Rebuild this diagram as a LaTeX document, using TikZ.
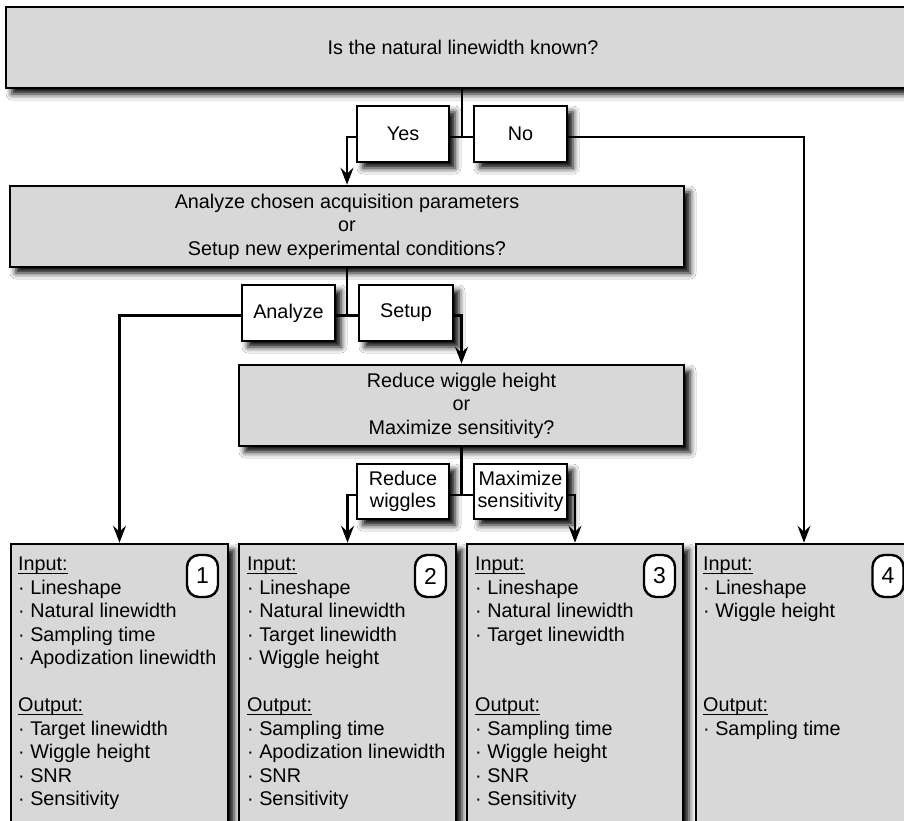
\documentclass[tikz,border=0pt]{standalone}
\usepackage{fontspec}
\setmainfont{Liberation Sans}
\usetikzlibrary{arrows.meta,shadows.blur}
\definecolor{boxgray}{RGB}{216,216,216}
\newlength\myullen
\newcommand\myul[1]{\settowidth\myullen{#1}#1\llap{\rule[-3.5pt]{\myullen}{1.8pt}}}
\newcommand\bigtxt{\fontsize{19.8}{23.5}\selectfont}
\begin{document}
\begin{tikzpicture}[x=1pt,y=-1pt,
  box/.style={draw, line width=2.6pt, fill=boxgray, inner sep=0pt, align=center, font=\bigtxt,
    blur shadow={shadow xshift=6pt, shadow yshift=-6pt, shadow blur radius=6pt, shadow opacity=100}},
  lab/.style={box, fill=white, minimum width=92pt, minimum height=56pt},
  lab2/.style={lab, font=\fontsize{19.8}{22}\selectfont, minimum height=55pt},
  txt/.style={anchor=north west, align=left, inner sep=0pt, font=\bigtxt},
  num/.style={draw, line width=2.4pt, fill=white, rounded corners=12pt, minimum width=31pt,
    minimum height=42pt, inner sep=0pt, font=\fontsize{23}{23}\selectfont},
  conn/.style={draw, line width=2.2pt},
  arr/.style={conn, -{Stealth[length=17pt,width=13pt,inset=6pt]}}]
\clip (0,0) rectangle (904,821);
\fill[white] (0,0) rectangle (904,821);
% decision boxes
\node[box, minimum width=914pt, minimum height=81pt] (q1) at (463,47.5) {Is the natural linewidth known?};
\node[lab] (yes) at (403,134) {Yes};
\node[lab, minimum width=93pt] (no) at (520.5,134) {No};
\node[box, minimum width=674pt, minimum height=81pt] (q2) at (347,226.5)
  {Analyze chosen acquisition parameters\\or\\Setup new experimental conditions?};
\node[lab, minimum width=93pt] (ana) at (288.5,313) {Analyze};
\node[lab, minimum width=94pt] (set) at (406,313) {Setup};
\node[box, minimum width=445pt, minimum height=81pt] (q3) at (461.5,405.5)
  {Reduce wiggle height\\or\\Maximize sensitivity?};
\node[lab2] (rw) at (403,491.5) {Reduce\\wiggles};
\node[lab2, minimum width=93pt] (ms) at (520.5,491.5) {Maximize\\sensitivity};
% result boxes
\node[box, minimum width=217pt, minimum height=320pt] (b1) at (119.5,704) {};
\node[box, minimum width=217pt, minimum height=320pt] (b2) at (347.5,704) {};
\node[box, minimum width=216pt, minimum height=320pt] (b3) at (575,704) {};
\node[box, minimum width=216pt, minimum height=320pt] (b4) at (804,704) {};
\node[txt] (t1) at (18,557) {\myul{Input:}\\· Lineshape\\· Natural linewidth\\· Sampling time\\· Apodization linewidth\\[23.5pt]\myul{Output:}\\· Target linewidth\\· Wiggle height\\· SNR\\· Sensitivity};
\node[txt] (t2) at (247,557) {\myul{Input:}\\· Lineshape\\· Natural linewidth\\· Target linewidth\\· Wiggle height\\[23.5pt]\myul{Output:}\\· Sampling time\\· Apodization linewidth\\· SNR\\· Sensitivity};
\node[txt] (t3) at (475,557) {\myul{Input:}\\· Lineshape\\· Natural linewidth\\· Target linewidth\\[47pt]\myul{Output:}\\· Sampling time\\· Wiggle height\\· SNR\\· Sensitivity};
\node[txt] (t4) at (703,557) {\myul{Input:}\\· Lineshape\\· Wiggle height\\[70.5pt]\myul{Output:}\\· Sampling time};
\node[num] (n1) at (202.5,576) {1};
\node[num] (n2) at (430.5,576) {2};
\node[num] (n3) at (659.5,576) {3};
\node[num] (n4) at (888,576) {4};
% connectors
\coordinate (j1) at (462,137);
\draw[conn] (q1.south -| j1) -- (j1);
\draw[conn] (yes.east |- j1) -- (no.west |- j1);
\draw[arr] (yes.west |- j1) -| (q2.north);
\draw[arr] (no.east |- j1) -| (b4.north);
\coordinate (j2) at (347,315.5);
\draw[conn] (q2.south) -- (j2);
\draw[conn] (ana.east |- j2) -- (set.west |- j2);
\draw[arr] (ana.west |- j2) -| (b1.north);
\draw[arr] (set.east |- j2) -| (q3.north);
\coordinate (j3) at (461.5,495);
\draw[conn] (q3.south) -- (j3);
\draw[conn] (rw.east |- j3) -- (ms.west |- j3);
\draw[arr] (rw.west |- j3) -| (b2.north);
\draw[arr] (ms.east |- j3) -| (b3.north);
\end{tikzpicture}
\end{document}
